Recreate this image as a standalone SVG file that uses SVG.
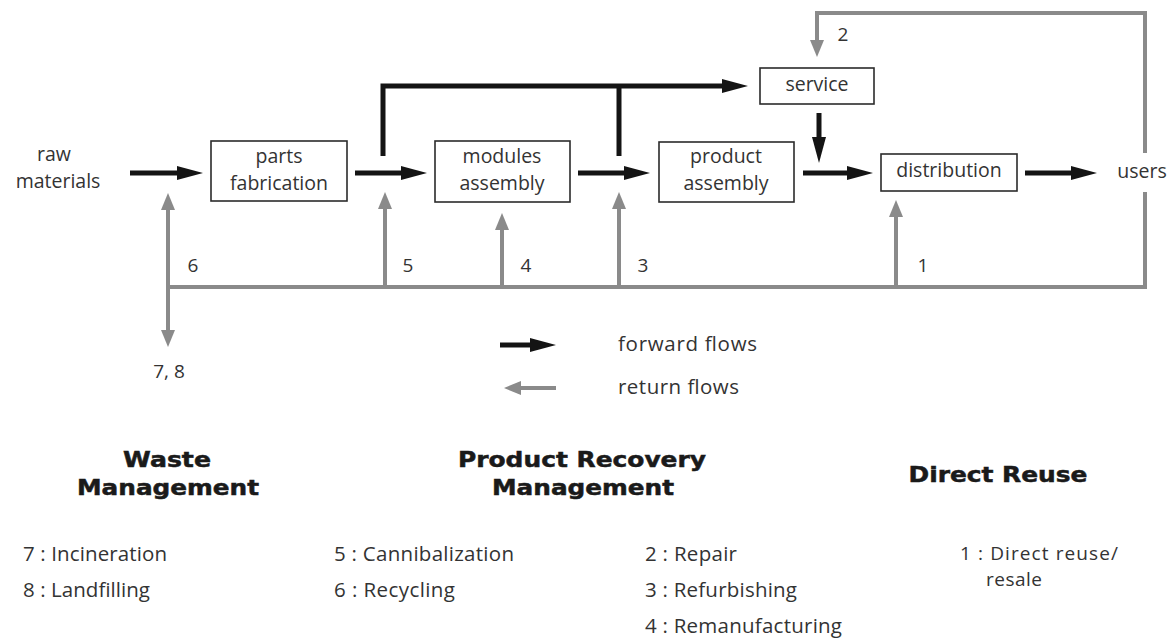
<svg xmlns="http://www.w3.org/2000/svg" width="1172" height="639" viewBox="0 0 1172 639">
<style>
.bg{fill:#ffffff}
.box{fill:#ffffff;stroke:#2b2b2b;stroke-width:1.6}
.lbl{font-family:"Open Sans","Liberation Sans",sans-serif;font-size:19.5px;fill:#333333;text-anchor:middle}
.num{font-family:"Open Sans","Liberation Sans",sans-serif;font-size:19px;fill:#333333;text-anchor:middle}
.item{font-family:"Open Sans","Liberation Sans",sans-serif;font-size:20.5px;fill:#333333}
.small{font-size:19px}
.head{font-family:"DejaVu Sans","Liberation Sans",sans-serif;font-size:21px;font-weight:bold;fill:#1a1a1a;stroke:#1a1a1a;stroke-width:0.5;text-anchor:middle}
.fwd{fill:none;stroke:#141414;stroke-width:5;stroke-linejoin:miter}
.ret{fill:none;stroke:#8a8a8a;stroke-width:4;stroke-linejoin:miter}
</style>
<defs>
<marker id="ab" markerUnits="userSpaceOnUse" markerWidth="26" markerHeight="14" viewBox="0 0 26 14" refX="2" refY="7" orient="auto">
<path d="M0,0 L26,7 L0,14 z" fill="#141414"/>
</marker>
<marker id="ag" markerUnits="userSpaceOnUse" markerWidth="17" markerHeight="14" viewBox="0 0 17 14" refX="2" refY="7" orient="auto">
<path d="M0,0 L17,7 L0,14 z" fill="#8a8a8a"/>
</marker>
</defs>
<rect class="bg" x="0" y="0" width="1172" height="639"/>

<g id="connectors">
<path class="fwd" d="M130,173 H179" marker-end="url(#ab)"/>
<path class="fwd" d="M355,173 H403" marker-end="url(#ab)"/>
<path class="fwd" d="M383,156 V86 H724" marker-end="url(#ab)"/>
<path class="fwd" d="M619,156 V86"/>
<path class="fwd" d="M578,173 H626" marker-end="url(#ab)"/>
<path class="fwd" d="M819,113 V139" marker-end="url(#ab)"/>
<path class="fwd" d="M803,173 H849" marker-end="url(#ab)"/>
<path class="fwd" d="M1025,173 H1073" marker-end="url(#ab)"/>
<path class="ret" d="M1145,153 V13 H817 V42" marker-end="url(#ag)"/>
<path class="ret" d="M1145,192 V287 H168"/>
<path class="ret" d="M168,287 V208" marker-end="url(#ag)"/>
<path class="ret" d="M168,287 V332" marker-end="url(#ag)"/>
<path class="ret" d="M385,287 V207" marker-end="url(#ag)"/>
<path class="ret" d="M502,287 V228" marker-end="url(#ag)"/>
<path class="ret" d="M619,287 V207" marker-end="url(#ag)"/>
<path class="ret" d="M896,287 V215" marker-end="url(#ag)"/>
<text class="num" x="193" y="272">6</text>
<text class="num" x="408" y="272">5</text>
<text class="num" x="526" y="272">4</text>
<text class="num" x="643" y="272">3</text>
<text class="num" x="923" y="272">1</text>
<text class="num" x="843" y="41">2</text>
<text class="num" x="169" y="378">7, 8</text>
</g>

<g id="raw-materials">
<text class="lbl"><tspan x="54" y="161">raw</tspan><tspan x="58" y="188">materials</tspan></text>
</g>
<g id="parts-fabrication">
<rect class="box" x="211" y="141" width="136" height="60"/>
<text class="lbl"><tspan x="279" y="163">parts</tspan><tspan x="279" y="190">fabrication</tspan></text>
</g>
<g id="modules-assembly">
<rect class="box" x="435" y="141" width="135" height="61"/>
<text class="lbl"><tspan x="502" y="163">modules</tspan><tspan x="502" y="190">assembly</tspan></text>
</g>
<g id="product-assembly">
<rect class="box" x="659" y="142" width="135" height="60"/>
<text class="lbl"><tspan x="726" y="163">product</tspan><tspan x="726" y="190">assembly</tspan></text>
</g>
<g id="service">
<rect class="box" x="760" y="68" width="114" height="36"/>
<text class="lbl" x="817" y="91">service</text>
</g>
<g id="distribution">
<rect class="box" x="881" y="154" width="136" height="37"/>
<text class="lbl" x="949" y="177">distribution</text>
</g>
<g id="users">
<text class="lbl" x="1142" y="178">users</text>
</g>

<g id="legend">
<path class="fwd" d="M500,345 H532" marker-end="url(#ab)"/>
<text class="item" x="618" y="351" textLength="139">forward flows</text>
<path class="ret" d="M556,388 H519" marker-end="url(#ag)"/>
<text class="item" x="618" y="394" textLength="121">return flows</text>
</g>

<g id="waste-management">
<text class="head" x="167" y="467" textLength="88" lengthAdjust="spacingAndGlyphs">Waste</text>
<text class="head" x="168" y="495" textLength="182" lengthAdjust="spacingAndGlyphs">Management</text>
<text class="item" x="23" y="561" textLength="144">7 : Incineration</text>
<text class="item" x="23" y="597" textLength="127">8 : Landfilling</text>
</g>
<g id="product-recovery-management">
<text class="head" x="582" y="467" textLength="248" lengthAdjust="spacingAndGlyphs">Product Recovery</text>
<text class="head" x="583" y="495" textLength="182" lengthAdjust="spacingAndGlyphs">Management</text>
<text class="item" x="334" y="561" textLength="180">5 : Cannibalization</text>
<text class="item" x="334" y="597" textLength="121">6 : Recycling</text>
<text class="item" x="645" y="561" textLength="92">2 : Repair</text>
<text class="item" x="645" y="597" textLength="152">3 : Refurbishing</text>
<text class="item" x="645" y="633" textLength="197">4 : Remanufacturing</text>
</g>
<g id="direct-reuse">
<text class="head" x="998" y="482" textLength="179" lengthAdjust="spacingAndGlyphs">Direct Reuse</text>
<text class="item small"><tspan x="960" y="560" textLength="158">1 : Direct reuse/</tspan><tspan x="986" y="586" textLength="56">resale</tspan></text>
</g>
</svg>
